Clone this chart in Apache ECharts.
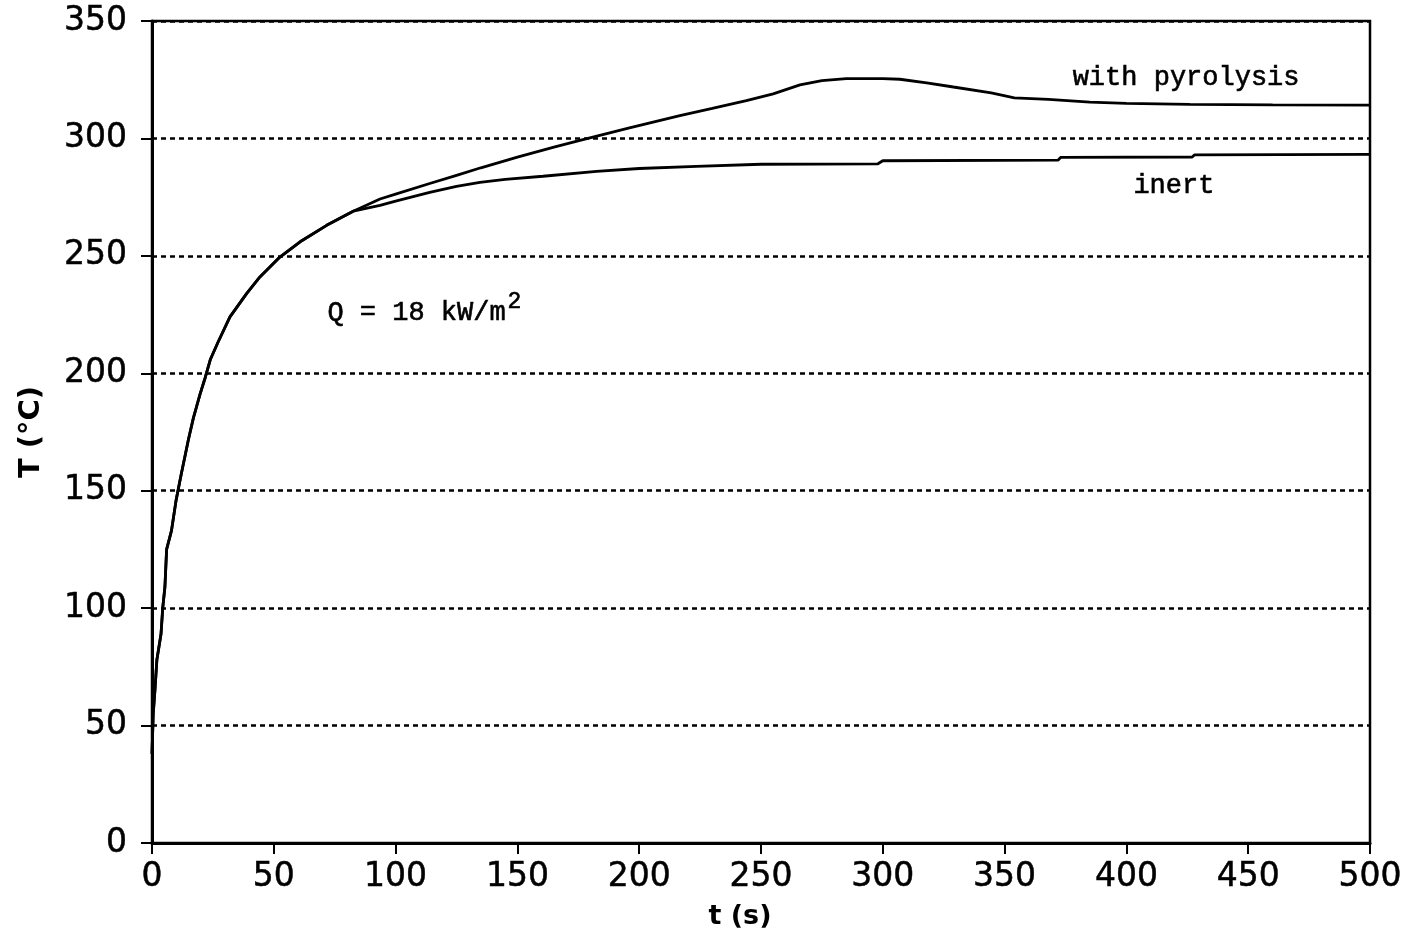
<!DOCTYPE html>
<html>
<head>
<meta charset="utf-8">
<script src="https://cdn.jsdelivr.net/npm/echarts@6/dist/echarts.min.js"></script>
<style>
html,body{margin:0;padding:0;background:#fff;}
#chart{width:1419px;height:941px;}
</style>
</head>
<body>
<div id="chart"></div>
<script>
// Shared early heating segment (both curves coincide)
const tEarly = [0, 0.5, 1.2, 2, 3.7, 4.4, 5.3, 6, 8, 9.9, 12, 15, 17, 19.7, 21.8, 24, 27, 32, 38.9, 44.3, 52.5, 60.8, 71.7, 82.6];
const TEarly = [38, 55, 65, 78, 89, 100, 109, 125, 133, 146, 157, 172, 181, 191, 198, 206, 213, 224, 234, 241, 249.5, 256, 263, 269];

// With pyrolysis (after divergence)
const tPyro = [93.6, 100, 114, 125, 135, 150, 165, 175.7, 196, 216.7, 230, 244, 255, 266, 275, 285, 300, 307, 318, 329, 344.5, 354, 368, 385, 400, 426, 460, 500];
const TPyro = [274.2, 276.3, 280.8, 284.3, 287.5, 292.0, 296.3, 299.2, 304.5, 309.7, 312.8, 316.1, 319, 322.8, 324.6, 325.5, 325.5, 325.2, 323.7, 321.9, 319.4, 317.3, 316.6, 315.5, 314.9, 314.5, 314.3, 314.2];

// Inert (after divergence)
const tInert = [93.6, 100, 114, 125, 134.6, 145, 160.5, 182.5, 200, 223.5, 250, 298, 300, 372, 373, 427, 428, 500];
const TInert = [271.5, 273.3, 277.0, 279.6, 281.3, 282.6, 283.9, 286, 287.2, 288.1, 289, 289.2, 290.5, 290.8, 291.9, 292.1, 293, 293.2];

const xTicks = [0, 50, 100, 150, 200, 250, 300, 350, 400, 450, 500];
const yTicks = [0, 50, 100, 150, 200, 250, 300, 350];

const labelPyro = 'with pyrolysis';
const labelInert = 'inert';
const labelQ = 'Q = 18 kW/m';
const posPyro = [424.5, 325.7];
const posInert = [419.5, 280];
const posQ = [72.0, 225.6];

const pyroData = tEarly.map((t, i) => [t, TEarly[i]]).concat(tPyro.map((t, i) => [t, TPyro[i]]));
const inertData = tEarly.map((t, i) => [t, TEarly[i]]).concat(tInert.map((t, i) => [t, TInert[i]]));

const chart = echarts.init(document.getElementById('chart'), null, {renderer: 'canvas'});
const monoStyle = {fontFamily: 'Liberation Mono', fontSize: 27, color: '#000', fontWeight: 'normal', textBorderColor: '#000', textBorderWidth: 0.6};

chart.setOption({
  backgroundColor: '#fff',
  animation: false,
  grid: {left: 152, right: 49, top: 21, bottom: 98, show: true, borderColor: '#000', borderWidth: 2.5, backgroundColor: 'transparent'},
  xAxis: {
    type: 'value', min: xTicks[0], max: xTicks[xTicks.length - 1], interval: 50,
    name: 't (s)', nameLocation: 'middle', nameGap: 60,
    nameTextStyle: {fontFamily: 'DejaVu Sans', fontWeight: 'bold', fontSize: 27, color: '#000', padding: [0, 42, 0, 0]},
    axisLine: {show: true, lineStyle: {color: '#000', width: 3}},
    axisTick: {show: true, inside: false, length: 11, lineStyle: {color: '#000', width: 2}},
    axisLabel: {margin: 18, fontFamily: 'DejaVu Sans', fontSize: 33, color: '#000', textBorderColor: '#000', textBorderWidth: 0.5},
    splitLine: {show: false}
  },
  yAxis: {
    type: 'value', min: yTicks[0], max: yTicks[yTicks.length - 1], interval: 50,
    name: 'T (°C)', nameLocation: 'middle', nameGap: 106,
    nameTextStyle: {fontFamily: 'DejaVu Sans', fontWeight: 'bold', fontSize: 29, color: '#000'},
    axisLine: {show: true, lineStyle: {color: '#000', width: 3}},
    axisTick: {show: true, inside: false, length: 11, lineStyle: {color: '#000', width: 2}},
    axisLabel: {margin: 25, fontFamily: 'DejaVu Sans', fontSize: 33, color: '#000', textBorderColor: '#000', textBorderWidth: 0.5},
    splitLine: {show: true, lineStyle: {color: '#000', width: 2.5, type: [5, 4]}}
  },
  series: [
    {
      name: 'with pyrolysis', type: 'line', data: pyroData, showSymbol: false, symbol: 'none',
      lineStyle: {color: '#000', width: 2.8},
      markPoint: {
        symbol: 'circle', symbolSize: 0,
        data: [
          {coord: posPyro, label: {show: true, position: 'inside', formatter: labelPyro, ...monoStyle}},
          {coord: posInert, label: {show: true, position: 'inside', formatter: labelInert, ...monoStyle}},
          {coord: posQ, label: {show: true, position: 'right', distance: 0, formatter: '{a|' + labelQ + '}{s|2}',
            rich: {a: {...monoStyle}, s: {...monoStyle, fontSize: 23, verticalAlign: 'top', padding: [0, 0, 22, 2]}}}}
        ]
      }
    },
    {
      name: 'inert', type: 'line', data: inertData, showSymbol: false, symbol: 'none',
      lineStyle: {color: '#000', width: 2.8}
    }
  ]
});
</script>
</body>
</html>
